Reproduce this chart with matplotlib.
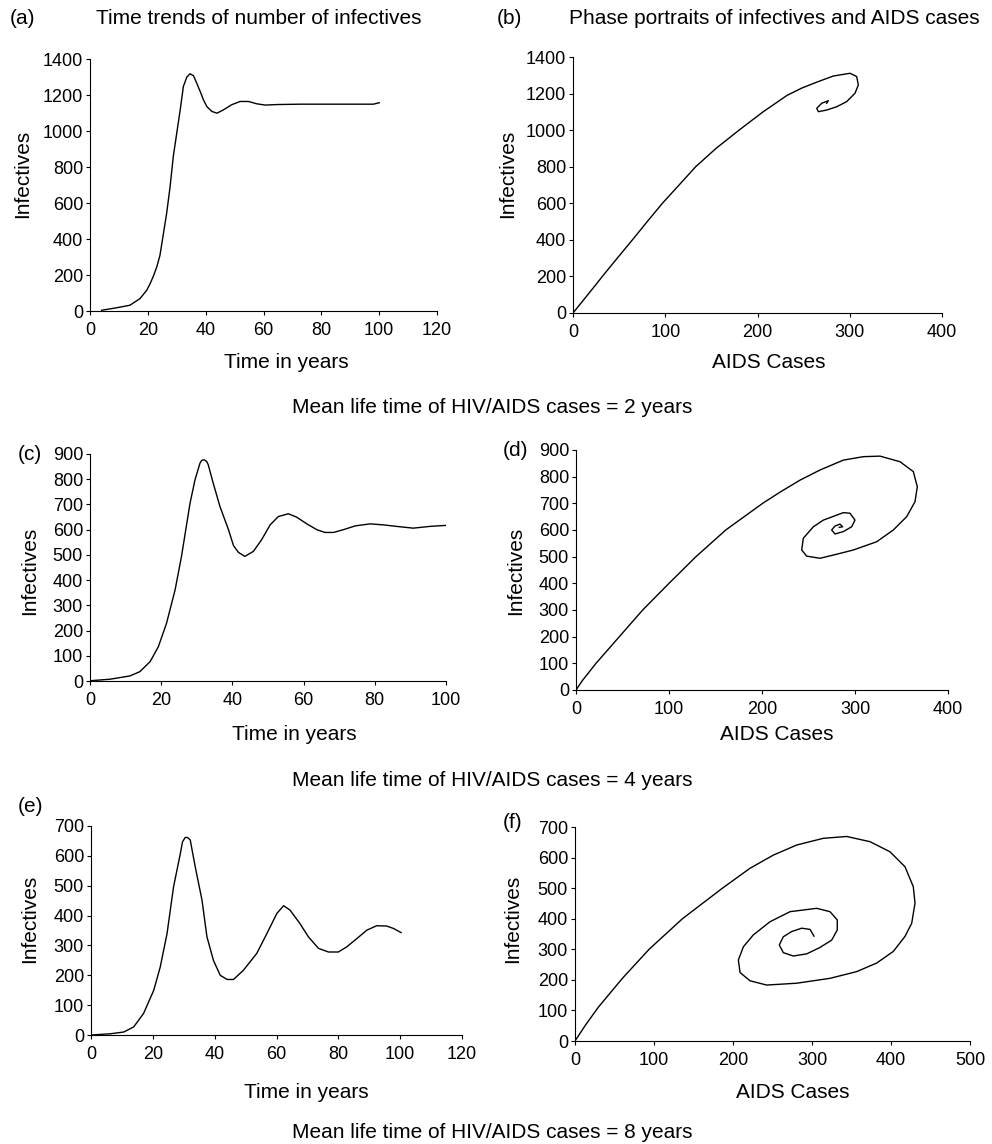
#!/usr/bin/env python3
"""HIV/AIDS model: time trends of infectives and phase portraits for three mean life times."""
import matplotlib
matplotlib.use('Agg')
import matplotlib.pyplot as plt

W, H = 992, 1144

plt.rcParams.update({
    'font.family': ['Liberation Sans', 'DejaVu Sans'], 'font.size': 13,
    'axes.spines.top': False, 'axes.spines.right': False,
    'axes.linewidth': 0.8, 'xtick.major.width': 0.8, 'ytick.major.width': 0.8,
    'xtick.direction': 'out', 'ytick.direction': 'out',
    'xtick.major.size': 3, 'ytick.major.size': 3,
    'xtick.major.pad': 5, 'ytick.major.pad': 2,
})

# (a) mean life time 2 years: time series
t_a = [4, 9.2, 13.8, 17.3, 19.6, 20.8, 21.9, 23.1, 24.2, 25.4, 26.5, 27.7, 28.8, 30,
       31.2, 32.3, 33.5, 34.6, 35.8, 36.9, 38.1, 39.2, 40.4, 42.1, 43.9, 46.2, 49,
       51.9, 54.8, 57.7, 60.6, 64.6, 72.7, 84.2, 98, 100]
i_a = [4, 18, 32, 69, 115, 152, 193, 245, 310, 431, 542, 691, 858, 988,
       1118, 1248, 1300, 1318, 1307, 1266, 1220, 1174, 1136, 1109, 1099, 1118, 1146,
       1164, 1164, 1151, 1144, 1147, 1149, 1149, 1149, 1157]

# (b) phase portrait, 2 years
aids_b = [0, 8, 16, 24, 31.8, 48, 64.4, 80.5, 96.9, 115, 133, 155, 180, 206, 232, 248,
          264, 282.2, 300.3, 307.5, 309.3, 305.7, 296.7, 285.9, 275, 266, 264.2,
          269.6, 276.8, 275]
inf_b = [0, 50, 100, 150, 200, 300, 400, 500, 600, 700, 800, 900, 1000, 1100, 1190, 1230,
         1262, 1296, 1311, 1293, 1247, 1202, 1156, 1128, 1110, 1101, 1119,
         1147, 1161, 1147]

# (c) mean life time 4 years: time series
t_c = [0, 5.6, 11.2, 14, 16.9, 19.2, 21.5, 23.9, 25.7, 28.1, 29.5, 30.9, 31.4, 32.1,
       32.8, 33.2, 34.6, 36.5, 38.9, 40.3, 41.7, 43.5, 45.9, 48.2, 50.6, 52.9, 55.7,
       58, 60.9, 63.7, 66, 68.4, 71.2, 74.5, 78.7, 82.4, 86.1, 90.8, 95.5, 100]
i_c = [1, 7, 20, 37, 77, 136, 229, 361, 494, 705, 798, 864, 875, 877,
       870, 858, 785, 692, 600, 537, 510, 494, 514, 560, 619, 652, 663,
       650, 623, 600, 589, 589, 600, 615, 623, 619, 613, 606, 613, 617]

# (d) phase portrait, 4 years
aids_d = [0, 7.2, 21.5, 46.6, 71.7, 100, 129, 161, 200.7, 219.4, 240.9, 262.4,
          287.4, 309, 326.9, 348.4, 362.7, 367, 364.5, 355.6, 341.2, 323.3, 298.2,
          276.7, 262.4, 248, 242.7, 244.4, 255.2, 265.9, 287.4, 294.6, 300, 296.4,
          287.4, 278.5, 274.9, 278.5, 283.9, 286.7, 283.1]
inf_d = [0, 37, 100, 200, 300, 400, 500, 600, 700, 742, 787, 825,
         862, 875, 877, 856, 819, 762, 706, 650, 600, 556, 525,
         506, 494, 502, 525, 569, 612, 637, 665, 663, 637, 612,
         594, 585, 600, 615, 622, 612, 610]

# (e) mean life time 8 years: time series
t_e = [0, 6.2, 10.6, 13.8, 17, 20.3, 22.4, 24.6, 26.7, 28.9, 29.6, 30.5, 31.3, 32.1,
       33.7, 35.9, 37.5, 39.6, 41.8, 44, 46.1, 49.3, 53.6, 56.9, 60.1, 62.3, 64.4,
       67.6, 70.3, 73.6, 76.8, 80, 82.7, 86, 89.2, 92.4, 95.6, 97.8, 100.3]
i_e = [0, 4, 10, 27, 72, 150, 228, 340, 496, 608, 647, 662, 661, 653,
       564, 452, 329, 250, 200, 186, 186, 217, 273, 340, 407, 433, 418,
       373, 329, 290, 278, 278, 295, 323, 351, 366, 365, 357, 343]

# (f) phase portrait, 8 years
aids_f = [0, 13.5, 30, 60, 93.8, 136, 186.7, 221.5, 251, 280.6, 314.3, 343.9, 373.4,
          398.7, 417.7, 428.2, 430.4, 426.2, 417.7, 402.9, 381.9, 356.6, 322.8, 280.6,
          242.6, 221.5, 208.9, 206.8, 213.1, 225.7, 246.8, 272.2, 305.9, 322.8, 332,
          332, 324.9, 310.1, 293.3, 276.3, 263.7, 258.6, 263.7, 274.3, 287, 297.5, 302.5]
inf_f = [0, 53, 112, 205, 300, 400, 500, 565, 608, 641, 663, 669, 652,
         619, 570, 505, 451, 385, 342, 293, 255, 227, 205, 189,
         183, 197, 224, 265, 308, 347, 390, 423, 434, 423, 396,
         363, 330, 306, 285, 278, 289, 314, 341, 358, 369, 365, 343]


def px_axes(l, r, t, b):
    return fig.add_axes([l / W, 1 - b / H, (r - l) / W, (b - t) / H])


def ftext(x, y, s, **kw):
    kw.setdefault('fontsize', 15)
    kw.setdefault('va', 'center')
    fig.text(x / W, 1 - y / H, s, **kw)


fig = plt.figure(figsize=(W / 100, H / 100), dpi=100)

panels = [
    # box, x, y, xmax, xstep, ymax, ystep
    ((90, 437, 59, 311), t_a, i_a, 120, 20, 1400, 200),
    ((573, 942, 57, 313), aids_b, inf_b, 400, 100, 1400, 200),
    ((90, 446, 454, 681), t_c, i_c, 100, 20, 900, 100),
    ((576, 948, 450, 690), aids_d, inf_d, 400, 100, 900, 100),
    ((91, 462, 826, 1035), t_e, i_e, 120, 20, 700, 100),
    ((575, 970, 827, 1041), aids_f, inf_f, 500, 100, 700, 100),
]

for box, xs, ys, xmax, xstep, ymax, ystep in panels:
    ax = px_axes(*box)
    ax.plot(xs, ys, color='black', linewidth=1.0, solid_joinstyle='round')
    ax.set_xlim(0, xmax)
    ax.set_ylim(0, ymax)
    ax.set_xticks(range(0, xmax + 1, xstep))
    ax.set_yticks(range(0, ymax + 1, ystep))
    ax.tick_params(labelsize=13)

# titles and panel letters
ftext(10, 18, '(a)', ha='left')
ftext(259, 18, 'Time trends of number of infectives', ha='center')
ftext(497, 18, '(b)', ha='left')
ftext(774, 18, 'Phase portraits of infectives and AIDS cases', ha='center')
ftext(18, 454, '(c)', ha='left')
ftext(503, 450, '(d)', ha='left')
ftext(18, 807, '(e)', ha='left')
ftext(503, 823, '(f)', ha='left')

# axis labels
for x, y in [(23, 174), (508, 174), (30, 571), (516, 571), (30, 919), (513, 919)]:
    ftext(x, y, 'Infectives', ha='center', rotation=90)
for x, y in [(286, 362), (294, 735), (306, 1092)]:
    ftext(x, y, 'Time in years', ha='center')
for x, y in [(769, 362), (777, 735), (793, 1092)]:
    ftext(x, y, 'AIDS Cases', ha='center')

# row captions
for y, yrs in [(407, 2), (780, 4), (1133, 8)]:
    ftext(492, y, 'Mean life time of HIV/AIDS cases = {} years'.format(yrs), ha='center')

fig.savefig('out.png', dpi=100)
plt.close(fig)
